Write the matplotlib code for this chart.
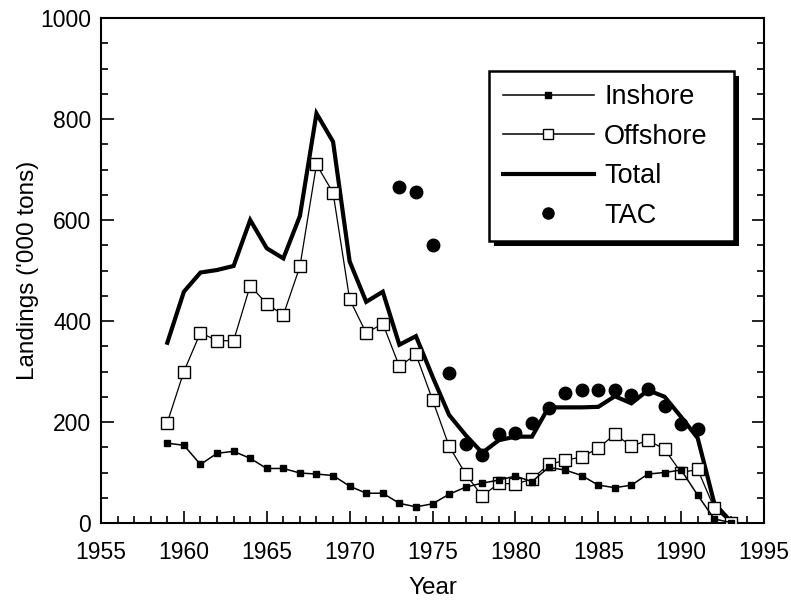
import matplotlib
matplotlib.use("Agg")
import matplotlib.pyplot as plt
from matplotlib.ticker import MultipleLocator
from matplotlib.lines import Line2D
from matplotlib.patches import Rectangle

years = list(range(1959, 1994))
inshore = [158, 154, 116, 138, 142, 128, 108, 108, 99, 97, 94, 73, 59, 59, 39, 32, 38,
           57, 71, 79, 85, 93, 82, 110, 105, 94, 75, 70, 75, 97, 100, 105, 55, 8, 1]
offshore = [199, 300, 377, 361, 361, 470, 434, 412, 508, 710, 654, 443, 376, 395, 310, 334, 244,
            152, 97, 53, 79, 77, 87, 116, 124, 131, 148, 176, 152, 164, 146, 100, 106, 29, 0]
total = [357, 458, 496, 501, 509, 600, 544, 524, 608, 811, 755, 518, 438, 458, 353, 370, 290,
         214, 174, 139, 164, 171, 171, 229, 229, 229, 230, 251, 237, 263, 250, 210, 168, 39, 3]
tac_years = list(range(1973, 1992))
tac = [665, 656, 550, 298, 156, 135, 176, 178, 199, 227, 257, 263, 263, 263, 253, 265, 232, 197, 187]
legend_labels = ['Inshore', 'Offshore', 'Total', 'TAC']

plt.rcParams['font.family'] = ['Liberation Sans', 'DejaVu Sans']

fig = plt.figure(figsize=(7.91, 6.02), dpi=100)
ax = fig.add_axes([0.1277, 0.1312, 0.9659 - 0.1277, 0.9701 - 0.1312])

ax.plot(years, total, color='black', lw=3.0, solid_joinstyle='miter', zorder=3)
ax.plot(years, offshore, color='black', lw=0.9, marker='s', ms=8.5, mfc='white', mec='black',
        mew=1.0, zorder=4)
ax.plot(years, inshore, color='black', lw=1.1, marker='s', ms=4.5, mfc='black', mec='black',
        zorder=5)
ax.plot(tac_years, tac, linestyle='none', marker='o', ms=9, color='black', zorder=6)

ax.set_xlim(1955, 1995)
ax.set_ylim(0, 1000)
ax.xaxis.set_major_locator(MultipleLocator(5))
ax.xaxis.set_minor_locator(MultipleLocator(1))
ax.yaxis.set_major_locator(MultipleLocator(200))
ax.yaxis.set_minor_locator(MultipleLocator(50))
ax.tick_params(which='both', direction='in', right=True, top=False, labelsize=16.5, width=1.2)
ax.tick_params(which='major', length=9)
ax.tick_params(which='minor', length=5)
ax.tick_params(axis='x', which='major', pad=13)
ax.tick_params(axis='y', which='major', pad=7)
for s in ax.spines.values():
    s.set_linewidth(1.5)

ax.set_xlabel('Year', fontsize=17.5, labelpad=9)
ax.set_ylabel("Landings ('000 tons)", fontsize=17.5, labelpad=1)

hs = [Line2D([], [], color='black', lw=1.1, marker='s', ms=4.5, mfc='black'),
      Line2D([], [], color='black', lw=1.1, marker='s', ms=7, mfc='white', mew=1.0),
      Line2D([], [], color='black', lw=3.0),
      Line2D([], [], color='black', ls='none', marker='o', ms=8)]
leg = ax.legend(hs, legend_labels, loc='upper left',
                bbox_to_anchor=(0.586, 0.896), borderaxespad=0, fontsize=19.5,
                handlelength=3.35, handletextpad=0.38, labelspacing=0.5, borderpad=0.5,
                frameon=False)
leg.set_zorder(11)

fig.canvas.draw()
bb = leg.get_window_extent().transformed(fig.transFigure.inverted())
px, py = 1 / 791, 1 / 602
x0, y0 = bb.x0 - 1 * px, bb.y0 + 1 * py
w, h = bb.width + 14 * px, bb.height - 1 * py
shadow = Rectangle((x0 + 5 * px, y0 - 5 * py), w, h, transform=fig.transFigure,
                   facecolor='black', edgecolor='none', zorder=9, clip_on=False)
frame = Rectangle((x0, y0), w, h, transform=fig.transFigure,
                  facecolor='white', edgecolor='black', linewidth=1.8, zorder=10, clip_on=False)
ax.add_patch(shadow)
ax.add_patch(frame)

fig.savefig('out.png', dpi=100)
